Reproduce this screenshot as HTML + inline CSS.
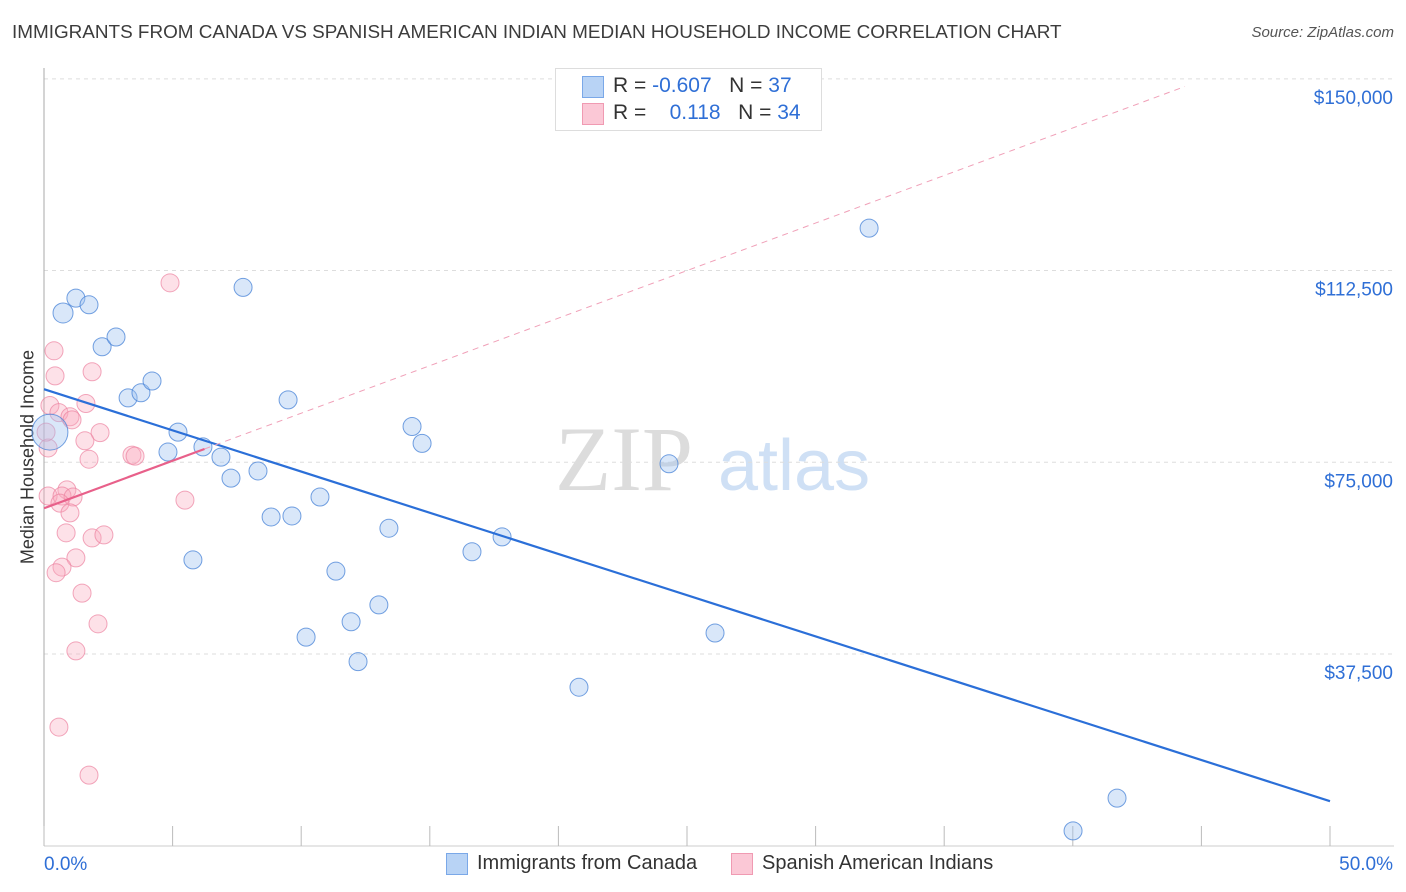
<!DOCTYPE html>
<html><head><meta charset="utf-8"><style>
body{margin:0;background:#fff;font-family:"Liberation Sans",sans-serif;}
#wrap{position:relative;width:1406px;height:892px;overflow:hidden;}
.t{position:absolute;white-space:nowrap;}
</style></head><body>
<div id="wrap">
<div class="t" style="left:12px;top:22px;font-size:18.9px;color:#3c3c3c;">IMMIGRANTS FROM CANADA VS SPANISH AMERICAN INDIAN MEDIAN HOUSEHOLD INCOME CORRELATION CHART</div>
<div class="t" style="right:12px;top:24px;font-size:15px;color:#555;font-style:italic;">Source: ZipAtlas.com</div>
<div class="t" style="left:28px;top:457px;font-size:18px;color:#333;transform:translate(-50%,-50%) rotate(-90deg);">Median Household Income</div>
<svg id="chart" width="1406" height="892" style="position:absolute;left:0;top:0"></svg>
<div style="position:absolute;left:555px;top:68px;width:265px;height:61px;border:1px solid #ddd;background:#fff;font-size:21px;">
 <div style="position:absolute;left:26px;top:7px;width:20px;height:20px;background:#b8d3f5;border:1px solid #7aa8e8;"></div>
 <div class="t" style="left:57px;top:5px;color:#333;">R = <span style="color:#2f6fd6">-0.607</span>&nbsp;&nbsp;&nbsp;N = <span style="color:#2f6fd6">37</span></div>
 <div style="position:absolute;left:26px;top:34px;width:20px;height:20px;background:#fbc8d6;border:1px solid #f09ab2;"></div>
 <div class="t" style="left:57px;top:32px;color:#333;">R = &nbsp;&nbsp;&nbsp;<span style="color:#2f6fd6">0.118</span>&nbsp;&nbsp;&nbsp;N = <span style="color:#2f6fd6">34</span></div>
</div>
<div style="position:absolute;left:446px;top:853px;width:20px;height:20px;background:#b8d3f5;border:1px solid #7aa8e8;"></div>
<div class="t" style="left:477px;top:852px;font-size:20px;color:#333;">Immigrants from Canada</div>
<div style="position:absolute;left:731px;top:853px;width:20px;height:20px;background:#fbc8d6;border:1px solid #f09ab2;"></div>
<div class="t" style="left:762px;top:852px;font-size:20px;color:#333;">Spanish American Indians</div>
</div>
<script>
const blueX=[0.74,1.24,1.75,2.26,2.80,3.27,3.77,4.20,4.82,5.21,5.79,6.18,6.88,7.27,7.74,8.32,8.83,9.49,9.64,10.19,10.73,11.35,11.94,12.21,13.02,13.41,14.31,14.70,16.64,17.81,20.80,24.30,26.09,32.08,40.01,41.72,0.23];
const blueY=[104200,107100,105800,97600,99500,87600,88600,90900,77000,80900,55900,78000,76000,71900,109200,73300,64300,87200,64500,40800,68200,53700,43800,36000,47100,62100,82000,78700,57500,60400,31000,74700,41600,120800,2900,9300,80900];
const blueR=[10,9,9,9,9,9,9,9,9,9,9,9,9,9,9,9,9,9,9,9,9,9,9,9,9,9,9,9,9,9,9,9,9,9,9,9,18];
const pinkX=[4.90,0.39,0.43,1.87,0.23,1.63,0.58,1.01,1.09,2.18,1.59,0.16,1.75,3.42,3.54,0.16,0.89,0.70,1.13,5.48,0.62,1.01,0.86,1.87,2.33,1.24,0.70,0.47,1.48,2.10,1.24,0.58,1.75,0.08];
const pinkY=[110100,96800,91900,92700,86100,86500,84700,83900,83300,80800,79200,77800,75600,76400,76200,68400,69600,68400,68200,67600,67000,65100,61200,60200,60800,56300,54500,53400,49400,43400,38100,23200,13800,80900];
const blueTrend=[[0,89300],[50,8700]];
const pinkTrendSolid=[[0,66000],[6.24,77600]];
const pinkTrendDash=[[6.24,77600],[44.36,148500]];
const yTicks=[37500,75000,112500,150000];
const yTickLabels=["$37,500","$75,000","$112,500","$150,000"];
const xTicks=[0,5,10,15,20,25,30,35,40,45,50];

const X=v=>44+v*25.72;
const Y=v=>845.7-v/195.6;
const svg=document.getElementById('chart');
const NS='http://www.w3.org/2000/svg';
function mk(tag,attrs,parent){const e=document.createElementNS(NS,tag);for(const k in attrs)e.setAttribute(k,attrs[k]);(parent||svg).appendChild(e);return e;}

let wm=mk('text',{x:555,y:490,'font-size':92,'font-family':'Liberation Serif, serif',fill:'#dcdcdc'});
wm.textContent='ZIP';


let wm2=mk('text',{x:718,y:490,'font-size':72,'font-family':'Liberation Sans, sans-serif',fill:'#cfe0f5'});
wm2.textContent='atlas';



yTicks.forEach((t,i)=>{
 let g=mk('line',{x1:44,x2:1394,y1:Y(t),y2:Y(t),stroke:'#ddd','stroke-dasharray':'4,4'});
 
 
 let l=mk('text',{x:1393,y:Y(t)+25,'text-anchor':'end','font-size':19,fill:'#2f6fd6'});
 l.textContent=yTickLabels[i];
 
 
});
let ax=mk('line',{x1:44,x2:44,y1:68,y2:846,stroke:'#aaa'});


let bx=mk('line',{x1:44,x2:1394,y1:846,y2:846,stroke:'#ccc'});


xTicks.forEach(t=>{
 let k=mk('line',{x1:X(t),x2:X(t),y1:826,y2:846,stroke:'#bbb'});
 
 
});
let x0=mk('text',{x:44,y:870,'font-size':19,fill:'#2f6fd6'});x0.textContent='0.0%';


let x1=mk('text',{x:1393,y:870,'font-size':19,fill:'#2f6fd6','text-anchor':'end'});x1.textContent='50.0%';



pinkX.forEach((v,i)=>{
 let c=mk('circle',{cx:X(v),cy:Y(pinkY[i]),r:9,fill:'rgba(248,168,190,0.35)',stroke:'rgba(236,130,160,0.7)','stroke-width':1});
 
 
});
blueX.forEach((v,i)=>{
 let c=mk('circle',{cx:X(v),cy:Y(blueY[i]),r:blueR[i],fill:'rgba(160,195,240,0.4)',stroke:'rgba(70,130,215,0.75)','stroke-width':1});
 
 
});
let bl=mk('line',{x1:X(blueTrend[0][0]),y1:Y(blueTrend[0][1]),x2:X(blueTrend[1][0]),y2:Y(blueTrend[1][1]),stroke:'#2b6fd8','stroke-width':2.2});


let pd=mk('line',{x1:X(pinkTrendDash[0][0]),y1:Y(pinkTrendDash[0][1]),x2:X(pinkTrendDash[1][0]),y2:Y(pinkTrendDash[1][1]),stroke:'#f0a0b8','stroke-width':1,'stroke-dasharray':'6,5'});


let ps=mk('line',{x1:X(pinkTrendSolid[0][0]),y1:Y(pinkTrendSolid[0][1]),x2:X(pinkTrendSolid[1][0]),y2:Y(pinkTrendSolid[1][1]),stroke:'#e8608a','stroke-width':2.2});


</script>
</body></html>
